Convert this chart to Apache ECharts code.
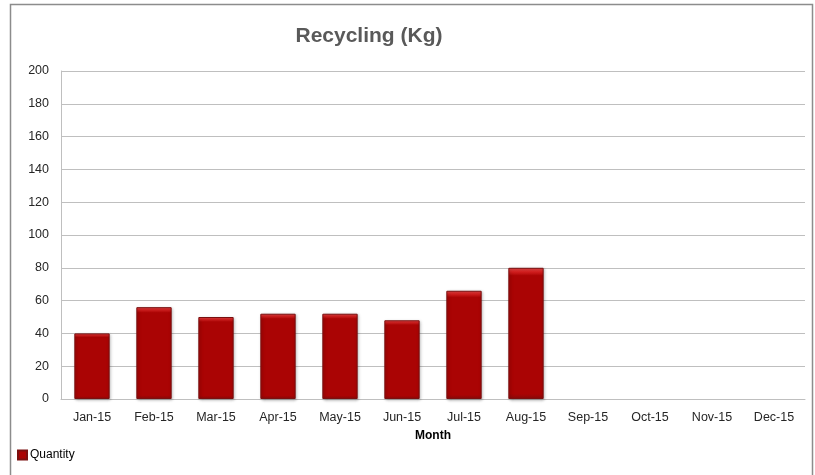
<!DOCTYPE html>
<html>
<head>
<meta charset="utf-8">
<script src="https://cdn.jsdelivr.net/npm/echarts@6/dist/echarts.min.js"></script>
<style>
  html, body { margin: 0; padding: 0; background: #fff; }
  #chart { width: 815px; height: 475px; }
</style>
</head>
<body>
<div id="chart"></div>
<script>
// 数据
const months = ['Jan-15', 'Feb-15', 'Mar-15', 'Apr-15', 'May-15', 'Jun-15',
                'Jul-15', 'Aug-15', 'Sep-15', 'Oct-15', 'Nov-15', 'Dec-15'];
const quantity = [40, 56, 50, 52, 52, 48, 66, 80, null, null, null, null];

const chart = echarts.init(document.getElementById('chart'));
const font = 'Liberation Sans';

const option = {
    animation: false,
    textStyle: { fontFamily: font },
    graphic: [{
        type: 'rect',
        shape: { x: 10.5, y: 4.5, width: 802, height: 480 },
        style: { fill: 'none', stroke: '#8c8c8c', lineWidth: 1.5 }
    }],
    title: {
        text: 'Recycling (Kg)',
        left: 364, top: 21,
        textAlign: 'center',
        textStyle: { fontSize: 21, fontWeight: 'bold', color: '#595959', fontFamily: font }
    },
    legend: {
        left: 12, top: 444,
        itemWidth: 9, itemHeight: 9, itemGap: 4,
        textStyle: { fontSize: 12, color: '#000', padding: [0, 0, 0, -2] },
        data: [{ name: 'Quantity', icon: 'rect' }]
    },
    grid: { left: 61, right: 10, top: 71, bottom: 76 },
    xAxis: {
        type: 'category',
        data: months,
        name: 'Month',
        nameLocation: 'middle',
        nameGap: 31,
        nameTextStyle: { fontSize: 12, fontWeight: 'bold', color: '#000' },
        axisLine: { lineStyle: { color: '#bfbfbf' } },
        axisTick: { show: false },
        axisLabel: { fontSize: 12.5, color: '#262626', margin: 12 }
    },
    yAxis: {
        type: 'value',
        min: 0, max: 200, interval: 20,
        axisLine: { show: true, lineStyle: { color: '#bfbfbf' } },
        axisTick: { show: false },
        axisLabel: { fontSize: 12.5, color: '#262626', margin: 12 },
        splitLine: { lineStyle: { color: '#bfbfbf' } }
    },
    series: [{
        name: 'Quantity',
        type: 'bar',
        data: quantity,
        barWidth: '57%',
        itemStyle: {
            color: new echarts.graphic.LinearGradient(0, 0, 0, 1, [
                { offset: 0, color: '#ee4a4a' },
                { offset: 0.03, color: '#d52020' },
                { offset: 0.06, color: '#aa0404' },
                { offset: 0.96, color: '#aa0404' },
                { offset: 1, color: '#8a0a0a' }
            ]),
            borderColor: '#7a1010',
            borderWidth: 1,
            shadowColor: 'rgba(0,0,0,0.3)',
            shadowBlur: 3,
            shadowOffsetX: 1,
            shadowOffsetY: 1
        }
    }]
};

chart.setOption(option);
</script>
</body>
</html>
